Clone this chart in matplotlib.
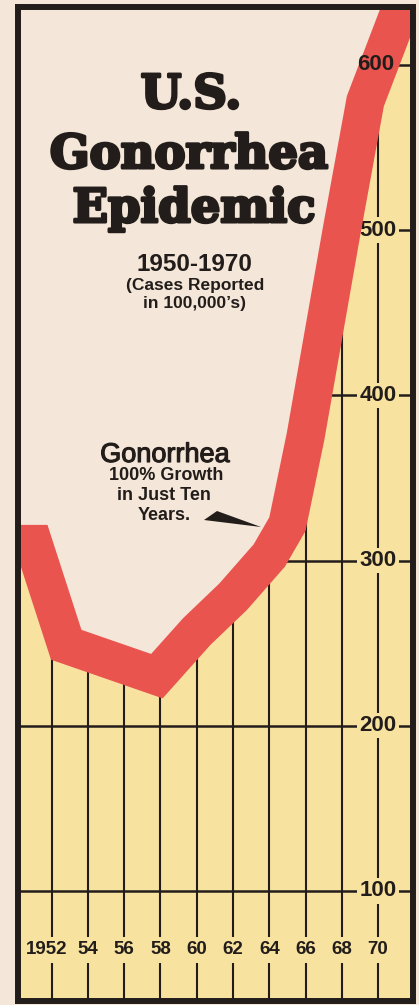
import matplotlib.pyplot as plt
import matplotlib.patheffects as pe
from matplotlib.patches import Polygon

# centre line of the red band (thousands of cases)
years = [1949.5, 1951.0, 1952.8, 1957.8, 1960, 1962, 1964, 1965, 1966, 1968, 1969.3, 1972.5]
cases = [310, 310, 249, 230, 257, 278, 303, 322, 375, 500, 578, 670]

year_ticks = [1952, 1954, 1956, 1958, 1960, 1962, 1964, 1966, 1968, 1970]
year_labels = ["1952", "54", "56", "58", "60", "62", "64", "66", "68", "70"]
value_ticks = [100, 200, 300, 400, 500, 600]

paper = "#F4E6D8"
yellow = "#F8E2A0"
red = "#E9544F"
ink = "#221D1A"

W, H = 419, 1005


def fx(px):
    return px / W


def fy(py):
    return 1 - py / H


fig = plt.figure(figsize=(W / 100, H / 100), dpi=100, facecolor=paper)
ax = fig.add_axes([fx(18), fy(1001), (412.5 - 18) / W, (1001 - 7) / H])
ax.set_facecolor(yellow)
ax.set_xlim(1950.14, 1971.9)
ax.set_ylim(33.4, 635)

# grid only shows in the yellow part, the paper fill hides the rest
for yr in year_ticks:
    ax.axvline(yr, color=ink, lw=1.5, zorder=1)
for v in value_ticks:
    ax.axhline(v, color=ink, lw=1.8, zorder=1)

ax.fill_between(years, cases, 700, color=paper, lw=0, zorder=3)
ax.plot(years, cases, color=red, lw=27.5, solid_joinstyle="miter",
        solid_capstyle="butt", zorder=4)

label_font = dict(family=["Liberation Sans", "DejaVu Sans"], weight="bold", color=ink)
for v in value_ticks:
    if v == 600:
        ax.text(1969.85, v, str(v), ha="center", va="center", fontsize=16,
                zorder=5, **label_font)
    else:
        ax.text(1970.0, v, str(v), ha="center", va="center", fontsize=16, zorder=2,
                bbox=dict(boxstyle="square,pad=0.1", fc=yellow, ec="none"), **label_font)

for i, (yr, lab) in enumerate(zip(year_ticks, year_labels)):
    dx = -4 if i == 0 else 0
    ax.annotate(lab, (yr, 64.3), xytext=(dx, 0), textcoords="offset points",
                ha="center", va="center", fontsize=13.5, zorder=2,
                bbox=dict(boxstyle="square,pad=0.25", fc=yellow, ec="none"), **label_font)

ax.set_xticks([])
ax.set_yticks([])
for sp in ax.spines.values():
    sp.set_linewidth(4.3)
    sp.set_color(ink)
    sp.set_zorder(6)

# title block, stroked a little to get closer to the heavy slab face
heavy = [pe.withStroke(linewidth=2.2, foreground=ink)]
title_font = dict(family=["DejaVu Serif"], weight="bold", color=ink, ha="center",
                  va="baseline", fontsize=33.5, path_effects=heavy)
fig.text(fx(191), fy(108), "U.S.", **title_font)
fig.text(fx(189), fy(168), "Gonorrhea", **title_font)
fig.text(fx(194), fy(222), "Epidemic", **title_font)

sub_font = dict(family=["Liberation Sans", "DejaVu Sans"], weight="bold", color=ink,
                ha="center", va="baseline")
fig.text(fx(194), fy(271), "1950-1970", fontsize=17.5, **sub_font)
fig.text(fx(195), fy(290), "(Cases Reported", fontsize=12.5, **sub_font)
fig.text(fx(194), fy(308), "in 100,000\u2019s)", fontsize=12.5, **sub_font)

note_font = dict(family=["Liberation Sans", "DejaVu Sans"], color=ink,
                 ha="center", va="baseline")
fig.text(fx(165), fy(462), "Gonorrhea", fontsize=19.5,
         path_effects=[pe.withStroke(linewidth=0.8, foreground=ink)], **note_font)
fig.text(fx(166), fy(480), "100% Growth", fontsize=13, weight="bold", **note_font)
fig.text(fx(164), fy(500), "in Just Ten", fontsize=13, weight="bold", **note_font)
fig.text(fx(164), fy(520), "Years.", fontsize=13, weight="bold", **note_font)

wedge = Polygon([(fx(217), fy(511)), (fx(204), fy(520)), (fx(261), fy(527))],
                closed=True, transform=fig.transFigure, fc=ink, ec="none", zorder=10)
fig.patches.append(wedge)

fig.savefig("out.png", dpi=100, facecolor=paper)
